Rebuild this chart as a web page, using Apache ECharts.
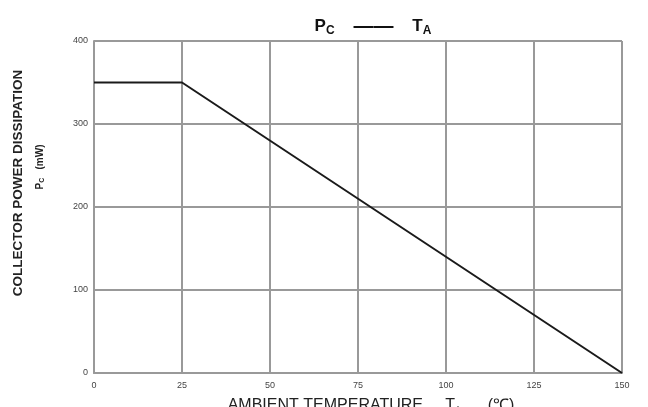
<!DOCTYPE html>
<html><head><meta charset="utf-8">
<script src="https://cdn.jsdelivr.net/npm/echarts@6/dist/echarts.min.js"></script>
<style>html,body{margin:0;padding:0;background:#fff}#c{width:648px;height:407px}</style>
</head><body><div id="c"></div>
<script>
const temps = [0, 25, 150];
const power = [350, 350, 0];
const xTicks = [0, 25, 50, 75, 100, 125, 150];
const yTicks = [0, 100, 200, 300, 400];

const F = 'Liberation Sans';
const chart = echarts.init(document.getElementById('c'));
chart.setOption({
  animation: false,
  backgroundColor: '#fff',
  title: {
    text: '{p|P}{s|C}{g|    }{d|——}{g|    }{p|T}{s|A}',
    left: 368, top: 11, textAlign: 'center',
    textStyle: {
      rich: {
        p: {fontFamily: F, fontWeight: 'bold', fontSize: 17, color: '#111'},
        s: {fontFamily: F, fontWeight: 'bold', fontSize: 12, color: '#111', verticalAlign: 'bottom', padding: [9,0,0,0]},
        g: {fontFamily: F, fontWeight: 'bold', fontSize: 17, color: '#111'},
        d: {fontFamily: F, fontWeight: 'bold', fontSize: 20, color: '#111'}
      }
    }
  },
  graphic: [
    {type: 'text', x: 18, y: 183, rotation: Math.PI / 2,
      style: {text: 'COLLECTOR POWER DISSIPATION', font: 'bold 13.5px "Liberation Sans"', fill: '#222',
        align: 'center', verticalAlign: 'middle'}},
    {type: 'text', x: 40, y: 167, rotation: Math.PI / 2,
      style: {text: '{t|P}{s|C}{t|   (mW)}', align: 'center', verticalAlign: 'middle',
        rich: {
          t: {fontFamily: F, fontSize: 10, fontWeight: 'bold', fill: '#222'},
          s: {fontFamily: F, fontSize: 7, fontWeight: 'bold', fill: '#222', verticalAlign: 'bottom', padding: [5,0,0,0]}
        }}}
  ],
  grid: {left: 94, right: 26, top: 41, bottom: 34, containLabel: false, outerBoundsMode: 'none'},
  xAxis: {
    type: 'value', min: 0, max: 150, interval: 25,
    name: '{t|AMBIENT TEMPERATURE     T}{s|A}{t|      (℃)}',
    nameLocation: 'middle', nameGap: 24,
    nameTextStyle: {
      padding: [0, 0, 0, 26],
      rich: {
        t: {fontFamily: F, fontSize: 16, color: '#222'},
        s: {fontFamily: F, fontSize: 9, color: '#222', verticalAlign: 'bottom', padding: [8,0,0,0]}
      }
    },
    axisLine: {lineStyle: {color: '#999', width: 2}},
    axisTick: {show: false},
    axisLabel: {fontFamily: F, fontSize: 9, color: '#444', margin: 8,
      formatter: v => xTicks.includes(v) ? String(v) : ''},
    splitLine: {show: true, lineStyle: {color: '#999', width: 2}}
  },
  yAxis: {
    type: 'value', min: 0, max: 400, interval: 100,
    axisLine: {show: true, lineStyle: {color: '#999', width: 2}},
    axisTick: {show: false},
    axisLabel: {fontFamily: F, fontSize: 9, color: '#444', margin: 6,
      formatter: v => yTicks.includes(v) ? String(v) : ''},
    splitLine: {show: true, lineStyle: {color: '#999', width: 2}}
  },
  series: [{
    type: 'line',
    data: temps.map((t, i) => [t, power[i]]),
    symbol: 'none',
    lineStyle: {color: '#1a1a1a', width: 2}
  }]
});
</script></body></html>
